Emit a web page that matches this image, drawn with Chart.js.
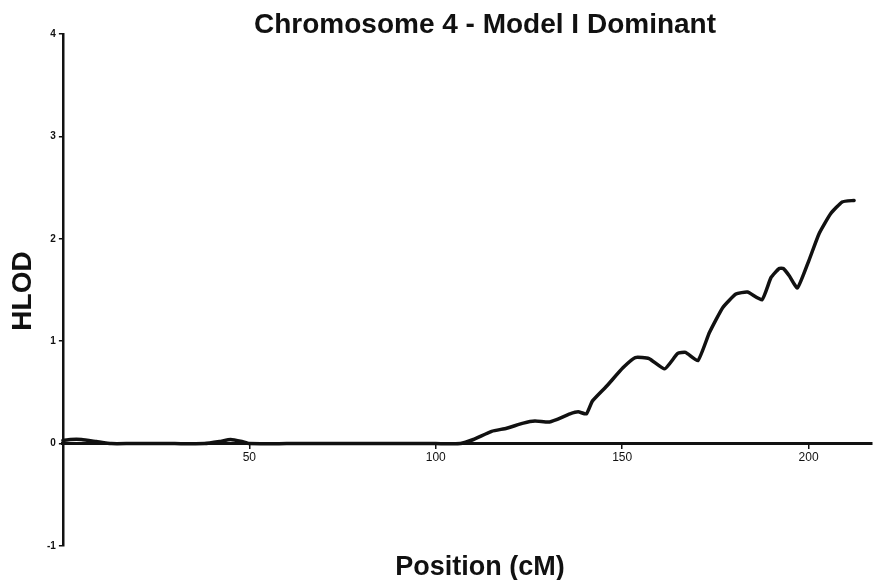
<!DOCTYPE html>
<html>
<head>
<meta charset="utf-8">
<title>Chromosome 4 - Model I Dominant</title>
<script src="https://cdn.jsdelivr.net/npm/chart.js@4.4.1/dist/chart.umd.min.js"></script>
<style>
  html, body { margin: 0; padding: 0; background: #fff; }
  #wrap { width: 874px; height: 580px; }
</style>
</head>
<body>
<div id="wrap"><canvas id="hlodChart" width="874" height="580"></canvas></div>
<script>
// ==================== HLOD SCAN, CHROMOSOME 4 ====================

const chartTitle = 'Chromosome 4 - Model I Dominant';
const xTitle = 'Position (cM)';
const yTitle = 'HLOD';

// position along the chromosome (cM) and HLOD score
const positions = [0, 2, 5, 9, 13, 18, 30, 38, 42, 45, 48, 50, 60, 80, 100, 106.6, 110.1, 115, 119, 123.5,
    126.6, 130.2, 132.4, 136, 138.2, 140.4, 142, 145.8, 150.2, 153.5, 157.2, 161.4, 164.9, 167, 170.3,
    173.4, 177, 180.5, 183.6, 187.5, 189.9, 192.1, 193.2, 194.8, 197, 200.1, 202.8, 205.9, 209, 212.2];
const hlod = [0.03, 0.04, 0.04, 0.02, 0, 0, 0, 0, 0.02, 0.04, 0.02, 0, 0, 0, 0, 0, 0.04, 0.12, 0.15, 0.2,
    0.22, 0.21, 0.235, 0.29, 0.31, 0.29, 0.415, 0.56, 0.74, 0.84, 0.83, 0.73, 0.88, 0.89, 0.81,
    1.085, 1.33, 1.46, 1.48, 1.405, 1.62, 1.71, 1.71, 1.64, 1.52, 1.79, 2.05, 2.245, 2.36, 2.375];

const xTicks = [50, 100, 150, 200];
const yTicks = [-1, 0, 1, 2, 3, 4];

const ink = '#111111';
const fontFamily = '"Liberation Sans", Arial, Helvetica, sans-serif';

// title and axis captions are drawn by hand so they sit where the figure has them
const captionPlugin = {
    id: 'captions',
    afterDraw(chart) {
        const ctx = chart.ctx;
        ctx.save();
        ctx.fillStyle = ink;
        ctx.textAlign = 'center';

        ctx.font = `bold 28px ${fontFamily}`;
        ctx.textBaseline = 'alphabetic';
        ctx.fillText(chartTitle, 485, 33);

        ctx.font = `bold 27px ${fontFamily}`;
        ctx.fillText(xTitle, 480, 575);

        ctx.translate(23, 291);
        ctx.rotate(-Math.PI / 2);
        ctx.font = `bold 28px ${fontFamily}`;
        ctx.textBaseline = 'middle';
        ctx.fillText(yTitle, 0, 0);
        ctx.restore();
    }
};

const ctx = document.getElementById('hlodChart').getContext('2d');

new Chart(ctx, {
    type: 'scatter',
    data: {
        datasets: [{
            label: 'HLOD',
            data: positions.map((p, i) => ({ x: p, y: hlod[i] })),
            showLine: true,
            borderColor: ink,
            borderWidth: 3.5,
            pointRadius: 0,
            tension: 0.15,
            borderJoinStyle: 'round',
            borderCapStyle: 'round',
            clip: false
        }]
    },
    options: {
        responsive: false,
        animation: false,
        layout: {
            padding: { left: 44, right: 2, top: 34, bottom: 34 }
        },
        scales: {
            x: {
                type: 'linear',
                position: { y: 0 },
                min: 0,
                max: 217,
                afterBuildTicks: (axis) => {
                    axis.ticks = xTicks.map(v => ({ value: v }));
                },
                grid: {
                    drawOnChartArea: false,
                    drawTicks: true,
                    tickLength: 4,
                    color: ink,
                    lineWidth: 1.5
                },
                border: { display: true, color: ink, width: 3 },
                ticks: {
                    color: ink,
                    padding: 3,
                    maxRotation: 0,
                    font: { family: fontFamily, size: 12 }
                }
            },
            y: {
                type: 'linear',
                position: 'left',
                min: -1,
                max: 4,
                afterBuildTicks: (axis) => {
                    axis.ticks = yTicks.map(v => ({ value: v }));
                },
                grid: {
                    drawOnChartArea: false,
                    drawTicks: true,
                    tickLength: 4,
                    color: ink,
                    lineWidth: 1.5
                },
                border: { display: true, color: ink, width: 2.5 },
                ticks: {
                    color: ink,
                    padding: 3,
                    font: { family: fontFamily, size: 10, weight: 'bold' }
                }
            }
        },
        plugins: {
            legend: { display: false },
            title: { display: false },
            tooltip: { enabled: false }
        }
    },
    plugins: [captionPlugin]
});
</script>
</body>
</html>
